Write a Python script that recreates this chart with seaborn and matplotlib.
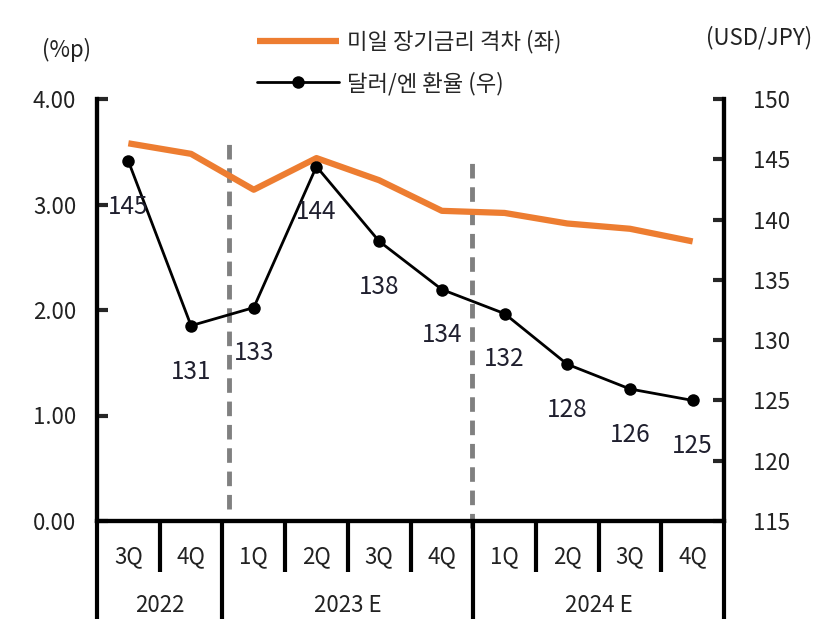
import matplotlib
matplotlib.use("Agg")
import matplotlib.pyplot as plt
import matplotlib.transforms as mtransforms
import seaborn as sns
import pandas as pd

quarters = ["3Q", "4Q", "1Q", "2Q", "3Q", "4Q", "1Q", "2Q", "3Q", "4Q"]
years = ["2022", "2023 E", "2024 E"]
year_sizes = [2, 4, 4]
spread = [3.58, 3.48, 3.14, 3.44, 3.23, 2.94, 2.92, 2.82, 2.77, 2.65]
usdjpy = [144.85, 131.2, 132.7, 144.4, 138.2, 134.2, 132.2, 128.0, 125.95, 125.0]
usdjpy_labels = ["145", "131", "133", "144", "138", "134", "132", "128", "126", "125"]
left_ticks = [0, 1, 2, 3, 4]
left_ticklabels = ["0.00", "1.00", "2.00", "3.00", "4.00"]
right_ticks = [115, 120, 125, 130, 135, 140, 145, 150]
legend_labels = ["미일 장기금리 격차 (좌)", "달러/엔 환율 (우)"]

sns.set_style("white")
plt.rcParams["font.family"] = ["Noto Sans CJK KR", "DejaVu Sans"]
plt.rcParams["font.weight"] = "light"

df = pd.DataFrame({"x": range(len(quarters)), "spread": spread, "usdjpy": usdjpy})

fig = plt.figure(figsize=(8.34, 6.34), dpi=100)
ax = fig.add_axes([97/834, 1-521/634, (724-97)/834, (521-99)/634])
ax2 = ax.twinx()

orange = "#ED7D31"
sns.lineplot(data=df, x="x", y="spread", ax=ax, color=orange, linewidth=4.5,
             solid_capstyle="butt", label=legend_labels[0], legend=False)
sns.lineplot(data=df, x="x", y="usdjpy", ax=ax2, color="black", linewidth=2.0,
             marker="o", markersize=9, markeredgewidth=0, label=legend_labels[1], legend=False)

ax.set_xlim(-0.5, len(quarters) - 0.5)
ax.set_ylim(0, 4)
ax2.set_ylim(115, 150)

# dashed separators
ax.plot([1.6, 1.6], [0.11, 3.62], color="#808080", lw=3.5, ls=(0, (3, 1.8)), zorder=1)
ax.plot([5.48, 5.48], [-0.07, 3.46], color="#808080", lw=3.5, ls=(0, (3, 1.8)), zorder=1, clip_on=False)

# data labels
for i, (v, lab) in enumerate(zip(usdjpy, usdjpy_labels)):
    ax2.annotate(lab, (i, v), xytext=(0, -33), textcoords="offset points",
                 ha="center", va="center", fontsize=17.5, color="#1f1f2e")

for a in (ax, ax2):
    a.spines["top"].set_visible(False)
    for s in ("left", "right", "bottom"):
        a.spines[s].set_linewidth(3)
        a.spines[s].set_color("black")
    a.set_xlabel("")
    a.set_ylabel("")
    a.set_xticks([])

ax.set_yticks(left_ticks)
ax.set_yticklabels(left_ticklabels)
ax.tick_params(axis="y", direction="in", length=8, width=3, pad=15, labelsize=16, labelcolor="#222222")
ax2.set_yticks(right_ticks)
ax2.tick_params(axis="y", direction="in", length=8, width=3, pad=21, labelsize=16, labelcolor="#222222")

# category axis below
trans = mtransforms.blended_transform_factory(ax.transData, ax.transAxes)
ax_h = 521 - 99
short = -51 / ax_h
long_ = -98 / ax_h
bounds = [-0.5]
for s in year_sizes:
    bounds.append(bounds[-1] + s)
for i in range(len(quarters) + 1):
    xb = i - 0.5
    y1 = long_ if xb in bounds else short
    ax.plot([xb, xb], [0, y1], transform=trans, color="black", lw=3, clip_on=False,
            solid_capstyle="butt")
for i, q in enumerate(quarters):
    ax.text(i, -36 / ax_h, q, transform=trans, ha="center", va="center", fontsize=16, color="#222222")
for j, y in enumerate(years):
    xc = (bounds[j] + bounds[j + 1]) / 2
    ax.text(xc, -84 / ax_h, y, transform=trans, ha="center", va="center", fontsize=16, color="#222222")

# unit labels
fig.text(66/834, 1-50/634, "(%p)", ha="center", va="center", fontsize=16, color="#222222")
fig.text(759/834, 1-38/634, "(USD/JPY)", ha="center", va="center", fontsize=16, color="#222222")

# legend
h1, l1 = ax.get_legend_handles_labels()
h2, l2 = ax2.get_legend_handles_labels()
fig.legend(h1 + h2, l1 + l2, loc="upper left", bbox_to_anchor=(257/834, 1-30/634),
           frameon=False, fontsize=16, handlelength=3.7, handletextpad=0.36, labelspacing=0.8,
           borderaxespad=0, borderpad=0)

fig.savefig("out.png", dpi=100)
